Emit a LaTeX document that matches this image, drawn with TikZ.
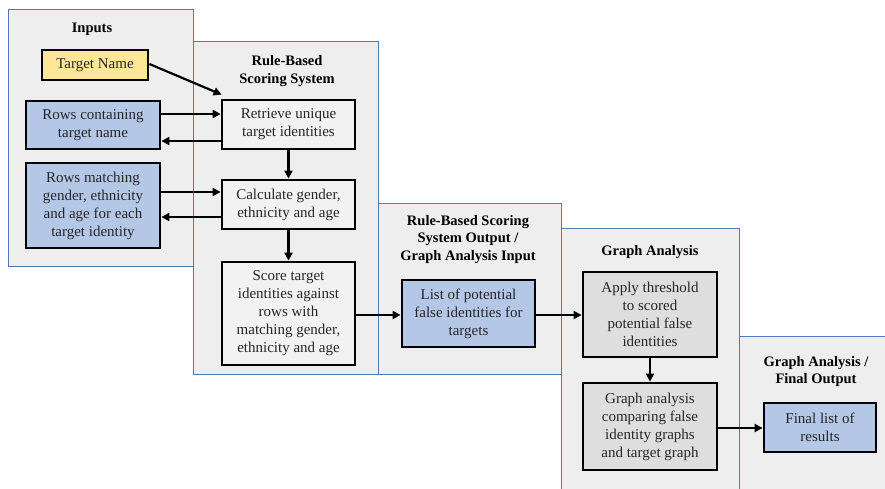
\documentclass[tikz,border=0pt]{standalone}
\usepackage{fontspec}
\setmainfont{Liberation Serif}
\usetikzlibrary{arrows.meta}
\definecolor{panelfill}{HTML}{EEEEEE}
\definecolor{panelline}{HTML}{5478B8}
\definecolor{boxblue}{HTML}{B4C7E7}
\definecolor{boxyellow}{HTML}{FFE699}
\definecolor{boxlight}{HTML}{F2F2F2}
\definecolor{boxgray}{HTML}{DEDEDE}
\definecolor{txt}{HTML}{262626}
\tikzset{
  panel/.style={fill=panelfill, draw=panelline, line width=1pt},
  box/.style={draw=black, line width=2.8pt, rectangle, align=center, inner sep=2pt,
     font=\fontsize{15}{18}\selectfont, text=txt},
  ptitle/.style={align=center, font=\fontsize{14.5}{17.5}\selectfont\bfseries, text=black},
  arr/.style={line width=2.2pt, -{Triangle[length=8pt,width=8pt]}}
}
\begin{document}
\begin{tikzpicture}[x=1pt,y=-1pt]
\useasboundingbox (0,0) rectangle (885,489);
\clip (0,0) rectangle (885,489);
% panels
\path[panel] (8,10) rectangle (193,266);
\path[panel] (193,42) rectangle (378,374);
\path[panel] (378,203) rectangle (561,374);
\path[panel] (561,228) rectangle (739,495);
\path[panel] (739,336) rectangle (895,495);
% titles
\node[ptitle] (t1) at (92,29) {Inputs};
\node[ptitle] (t2) at (287,71) {Rule-Based\\Scoring System};
\node[ptitle] (t3) at (468,239.5) {Rule-Based Scoring\\System Output /\\Graph Analysis Input};
\node[ptitle] (t4) at (650,252) {Graph Analysis};
\node[ptitle] (t5) at (816,371.5) {Graph Analysis /\\Final Output};
% boxes
\node[box, fill=boxyellow, minimum width=106pt, minimum height=30pt] (tn) at (95,65) {Target Name};
\node[box, fill=boxblue, minimum width=134pt, minimum height=48pt] (rc) at (93,125) {Rows containing\\target name};
\node[box, fill=boxblue, minimum width=134pt, minimum height=85pt] (rm) at (93,205.5) {Rows matching\\gender, ethnicity\\and age for each\\target identity};
\node[box, fill=boxlight, minimum width=133pt, minimum height=49pt] (ru) at (288.5,124.5) {Retrieve unique\\target identities};
\node[box, fill=boxlight, minimum width=133pt, minimum height=49pt] (cg) at (288.5,204.5) {Calculate gender,\\ethnicity and age};
\node[box, fill=boxlight, minimum width=133pt, minimum height=103pt] (st) at (288.5,313.5) {Score target\\identities against\\rows with\\matching gender,\\ethnicity and age};
\node[box, fill=boxblue, minimum width=133pt, minimum height=67pt] (lp) at (468.5,313.5) {List of potential\\false identities for\\targets};
\node[box, fill=boxgray, minimum width=134pt, minimum height=85pt] (at) at (650,314.5) {Apply threshold\\to scored\\potential false\\identities};
\node[box, fill=boxgray, minimum width=134pt, minimum height=87pt] (ga) at (650,426.5) {Graph analysis\\comparing false\\identity graphs\\and target graph};
\node[box, fill=boxblue, minimum width=112pt, minimum height=49pt] (fl) at (820,427.5) {Final list of\\results};
% arrows
\draw[arr] ([yshift=1pt]tn.east) -- ([xshift=1pt,yshift=4pt]ru.north west);
\draw[arr] (rc.east |- 0,114) -- (ru.west |- 0,114);
\draw[arr] (ru.west |- 0,141) -- (rc.east |- 0,141);
\draw[arr] (ru.south) -- (cg.north);
\draw[arr] (rm.east |- 0,192) -- (cg.west |- 0,192);
\draw[arr] (cg.west |- 0,217) -- (rm.east |- 0,217);
\draw[arr] (cg.south) -- (st.north);
\draw[arr] (st.east |- 0,315) -- (lp.west |- 0,315);
\draw[arr] (lp.east |- 0,315) -- (at.west |- 0,315);
\draw[arr] (at.south) -- (ga.north);
\draw[arr] (ga.east |- 0,428) -- (fl.west |- 0,428);
\end{tikzpicture}
\end{document}
